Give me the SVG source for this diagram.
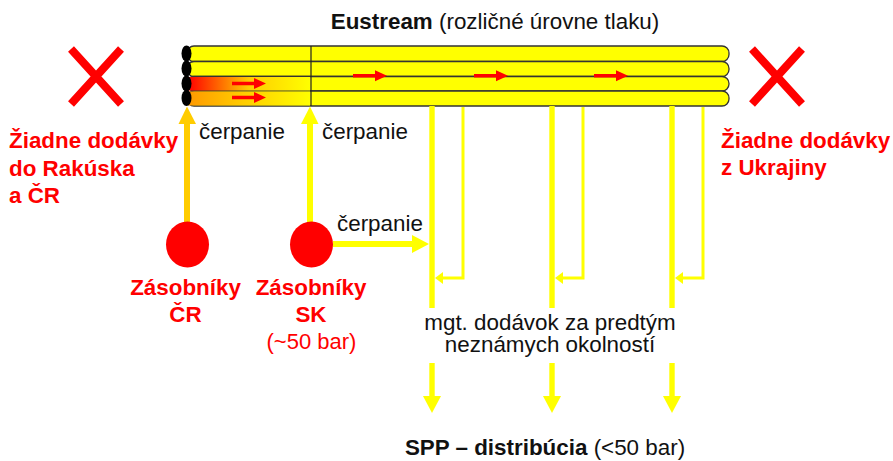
<svg xmlns="http://www.w3.org/2000/svg" width="893" height="461" viewBox="0 0 893 461">
<style>
text{font-family:"Liberation Sans",Arial,sans-serif}
.t{font-size:22.4px;fill:#111}
.r{font-size:22.4px;fill:#f00;font-weight:bold}
.c{text-anchor:middle}
.pipe{fill:#ff0;stroke:#333;stroke-width:1.3}
.div{fill:none;stroke:#222;stroke-width:1.2}
.y{fill:#ff0}
.o{fill:#fc0}
.red{fill:#f00}
.x{stroke:#f00;stroke-width:8;fill:none}
</style>
<defs>
<linearGradient id="g1" x1="0" x2="1" y1="0" y2="0"><stop offset="0" stop-color="#f00"/><stop offset="0.5" stop-color="#fc0"/><stop offset="1" stop-color="#ff0"/></linearGradient>
<linearGradient id="g2" x1="0" x2="1" y1="0" y2="0"><stop offset="0" stop-color="#f90"/><stop offset="0.45" stop-color="#fc0"/><stop offset="1" stop-color="#ff0"/></linearGradient>
<path id="ra" class="red" d="M0-1.800H22V-5.500L34 0 22 5.500V1.800H0Z"/>
<g id="down"><rect x="-2.700" y="363" width="5.400" height="33" class="y"/><path class="y" d="M-9 396H9L0 413Z"/><rect x="-2.700" y="106" width="5.400" height="202" class="y"/></g>
<g id="ret"><path d="M28 107V278H6" fill="none" stroke="#ff0" stroke-width="3"/><path class="y" d="M0 278 8 272V284Z"/></g>
</defs>

<g id="pipeline">
<rect class="pipe" x="187" y="46" width="542" height="15.500" rx="7"/>
<rect class="pipe" x="187" y="61.500" width="542" height="15" rx="7"/>
<rect class="pipe" x="187" y="76.500" width="542" height="14.500" rx="7"/>
<rect class="pipe" x="187" y="91" width="542" height="15" rx="7"/>
<rect x="188" y="77" width="122" height="13.500" fill="url(#g1)"/>
<rect x="188" y="91.500" width="122" height="14" fill="url(#g2)"/>
<path class="div" d="M311 46V106"/>
<g fill="#000"><ellipse cx="186.500" cy="53.500" rx="5" ry="8"/><ellipse cx="186.500" cy="68.500" rx="5" ry="8"/><ellipse cx="186.500" cy="83.500" rx="5" ry="8"/><ellipse cx="186.500" cy="98" rx="5" ry="8"/></g>
<use href="#ra" x="232" y="83.500"/><use href="#ra" x="232" y="97.500"/><use href="#ra" x="353" y="75.700"/><use href="#ra" x="474" y="75.700"/><use href="#ra" x="594" y="75.700"/>
</g>

<g id="connectors">
<rect x="184" y="122" width="6" height="101" class="o"/><path class="o" d="M178.500 124 187 106.500 196 124Z"/>
<rect x="307" y="122" width="6" height="101" class="y"/><path class="y" d="M301 124 310 106.500 318.500 124Z"/>
<rect x="333" y="241" width="81" height="6" class="y"/><path class="y" d="M412 235 429 244 412 253Z"/>
<use href="#down" x="432"/><use href="#down" x="552"/><use href="#down" x="672"/>
<use href="#ret" x="435"/><use href="#ret" x="555"/><use href="#ret" x="675"/>
</g>

<g id="cross-left"><path class="x" d="M71 49 121 104M121 49 71 104"/></g>
<g id="cross-right"><path class="x" d="M752 49 802 104M802 49 752 104"/></g>
<g id="storage-cr"><ellipse class="red" cx="187.500" cy="244.500" rx="21.500" ry="23"/>
<text class="r c" x="185.500" y="295">Zásobníky</text><text class="r c" x="185.500" y="322">ČR</text></g>
<g id="storage-sk"><ellipse class="red" cx="311.500" cy="244.500" rx="21.500" ry="23"/>
<text class="r c" x="311" y="295">Zásobníky</text><text class="r c" x="311" y="322">SK</text><text class="c" x="311.500" y="349" font-size="22" fill="#f00">(~50 bar)</text></g>

<text x="495" y="29" class="t c"><tspan font-weight="bold">Eustream</tspan> (rozličné úrovne tlaku)</text>
<text class="r" x="9" y="148">Žiadne dodávky</text><text class="r" x="9" y="176">do Rakúska</text><text class="r" x="9" y="203">a ČR</text>
<text class="r" x="721" y="148">Žiadne dodávky</text><text class="r" x="721" y="175">z Ukrajiny</text>
<text class="t" x="199" y="139">čerpanie</text><text class="t" x="322" y="139">čerpanie</text><text class="t" x="337" y="231">čerpanie</text>
<text class="t c" x="550" y="330">mgt. dodávok za predtým</text><text class="t c" x="550" y="351.500">neznámych okolností</text>
<text x="545" y="455" class="t c"><tspan font-weight="bold">SPP – distribúcia</tspan> (&lt;50 bar)</text>
</svg>
